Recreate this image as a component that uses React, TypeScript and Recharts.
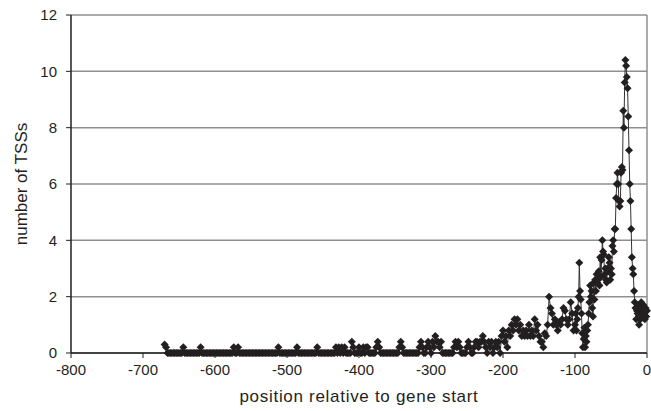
import { CartesianGrid, Line, LineChart, ReferenceLine, XAxis, YAxis } from 'recharts'

// positions -670 .. -102, every 2 bp
const FAR_START = -670
const FAR_STEP = 2
const farValues = [
  0.3, 0.2, 0, 0, 0, 0, 0, 0, 0, 0, // -670
  0, 0, 0, 0.2, 0, 0, 0, 0, 0, 0, // -650
  0, 0, 0, 0, 0, 0.2, 0, 0, 0, 0, // -630
  0, 0, 0, 0, 0, 0, 0, 0, 0, 0, // -610
  0, 0, 0, 0, 0, 0, 0, 0, 0.2, 0, // -590
  0, 0.2, 0, 0, 0, 0, 0, 0, 0, 0, // -570
  0, 0, 0, 0, 0, 0, 0, 0, 0, 0, // -550
  0, 0, 0, 0, 0, 0, 0, 0, 0, 0.2, // -530
  0, 0, 0, 0, 0, 0, 0, 0, 0, 0, // -510
  0, 0, 0.2, 0, 0, 0, 0, 0, 0, 0, // -490
  0, 0, 0, 0, 0, 0, 0.2, 0, 0, 0, // -470
  0, 0, 0, 0, 0, 0, 0, 0, 0, 0.2, // -450
  0, 0.2, 0, 0.2, 0, 0.2, 0, 0, 0, 0, // -430
  0.4, 0.2, 0, 0, 0, 0.2, 0, 0, 0.2, 0, // -410
  0.2, 0.2, 0, 0, 0, 0, 0, 0.2, 0.4, 0.2, // -390
  0, 0, 0, 0, 0, 0, 0, 0, 0, 0, // -370
  0, 0, 0, 0.2, 0.4, 0.2, 0, 0, 0, 0, // -350
  0, 0, 0, 0, 0, 0, 0, 0.2, 0.4, 0.2, // -330
  0, 0, 0.2, 0.4, 0.2, 0, 0.4, 0.2, 0.6, 0.4, // -310
  0.4, 0.2, 0.4, 0, 0, 0, 0, 0, 0, 0, // -290
  0, 0.2, 0.4, 0.2, 0.4, 0.2, 0, 0, 0, 0, // -270
  0.2, 0.4, 0.2, 0, 0, 0.2, 0.4, 0.4, 0.2, 0.4, // -250
  0.4, 0.6, 0.4, 0.2, 0, 0.4, 0.2, 0.4, 0, 0.2, // -230
  0.4, 0.2, 0.4, 0, 0.6, 0.8, 0.4, 0.6, 0.2, 0.8, // -210
  0.6, 1.0, 0.8, 1.2, 1.0, 1.2, 0.8, 1.0, 0.6, 0.8, // -190
  0.6, 0.8, 0.6, 1.0, 0.6, 0.8, 0.6, 1.2, 0.8, 1.0, // -170
  0.6, 0.4, 0.4, 0.2, 0.7, 0.6, 1.0, 2.0, 1.6, 1.4, // -150
  1.0, 1.2, 1.0, 0.8, 1.1, 1.0, 1.2, 1.6, 1.5, 1.2, // -130
  1.0, 1.2, 1.8, 1.4, 0.8, // -110
]

// positions -100 .. 0, every bp
const NEAR_START = -100
const nearValues = [
  1.0, 1.4, 0.8, 1.2, 1.6, 2.0, 3.2, 2.2, 1.9, 1.4, // -100
  0.7, 0.2, 0.5, 0.9, 0.2, 0.6, 0.4, 0.8, 1.0, 1.4, // -90
  1.8, 2.4, 2.0, 2.2, 1.6, 1.3, 2.5, 1.9, 2.6, 2.2, // -80
  2.8, 2.5, 2.6, 2.9, 2.4, 3.4, 2.7, 3.3, 4.0, 3.6, // -70
  3.5, 2.8, 3.0, 2.6, 2.5, 3.0, 2.9, 3.4, 3.2, 2.6, // -60
  3.0, 2.8, 3.8, 4.0, 3.6, 4.4, 4.4, 5.5, 6.0, 6.4, // -50
  6.0, 5.4, 5.2, 5.4, 6.4, 6.6, 6.5, 8.6, 8.0, 9.6, // -40
  10.4, 10.2, 9.8, 9.4, 8.4, 7.2, 6.0, 5.4, 4.4, 3.4, // -30
  3.0, 2.8, 2.2, 1.8, 1.6, 1.2, 1.5, 1.4, 1.7, 1.0, // -20
  1.6, 1.2, 1.8, 1.4, 1.3, 1.7, 1.5, 1.2, 1.6, 1.3, // -10
  1.5, // 0
]

const xTicks = [-800, -700, -600, -500, -400, -300, -200, -100, 0]
const yTicks = [0, 2, 4, 6, 8, 10, 12]

const data = [
  ...farValues.map((v, i) => ({ pos: FAR_START + i * FAR_STEP, tss: v })),
  ...nearValues.map((v, i) => ({ pos: NEAR_START + i, tss: v })),
]

const FONT = '"Liberation Sans", Arial, sans-serif'
const INK = '#231f20'

function Diamond(props: { cx?: number; cy?: number; index?: number }) {
  const { cx, cy, index } = props
  if (cx == null || cy == null) return null
  const r = 4
  return (
    <path
      key={index}
      d={`M${cx},${cy - r}L${cx + r},${cy}L${cx},${cy + r}L${cx - r},${cy}Z`}
      fill={INK}
    />
  )
}

export default function App() {
  return (
    <div style={{ width: 651, height: 411, background: '#fff', fontFamily: FONT }}>
      <style>{'body{margin:0}'}</style>
      <LineChart
        width={651}
        height={411}
        data={data}
        margin={{ top: 15, right: 4, bottom: 0, left: 0 }}
      >
        <CartesianGrid
          vertical={false}
          stroke="#8f8f8f"
          strokeWidth={1.5}
          horizontalValues={yTicks}
        />
        <ReferenceLine x={0} stroke="#8f8f8f" strokeWidth={1.5} />
        <XAxis
          dataKey="pos"
          type="number"
          domain={[-800, 0]}
          ticks={xTicks}
          interval={0}
          height={58}
          tickSize={5}
          tickMargin={6}
          axisLine={{ stroke: INK, strokeWidth: 1.5 }}
          tickLine={{ stroke: INK }}
          tick={{ fontSize: 15, fill: INK, fontFamily: FONT }}
          label={{
            value: 'position relative to gene start',
            position: 'insideBottom',
            offset: 9,
            style: { fontSize: 17, fill: INK, fontFamily: FONT, letterSpacing: 0.7 },
          }}
        />
        <YAxis
          type="number"
          domain={[0, 12]}
          ticks={yTicks}
          interval={0}
          width={71}
          tickSize={5}
          tickMargin={9}
          axisLine={{ stroke: INK, strokeWidth: 1.5 }}
          tickLine={{ stroke: INK }}
          tick={{ fontSize: 15, fill: INK, fontFamily: FONT }}
          label={{
            value: 'number of TSSs',
            angle: -90,
            position: 'insideLeft',
            offset: 21,
            style: { fontSize: 17, fill: INK, fontFamily: FONT, textAnchor: 'middle' },
          }}
        />
        <Line
          type="linear"
          dataKey="tss"
          stroke="#333"
          strokeWidth={1}
          dot={<Diamond />}
          activeDot={false}
          isAnimationActive={false}
        />
      </LineChart>
    </div>
  )
}
